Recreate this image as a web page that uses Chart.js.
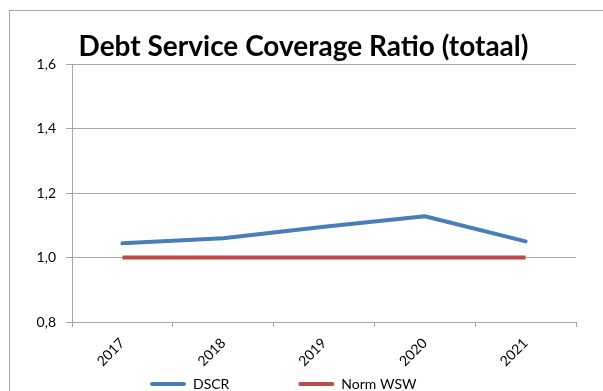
<!DOCTYPE html>
<html><head><meta charset="utf-8">
<script src="https://cdn.jsdelivr.net/npm/chart.js@4"></script>
<style>
html,body{margin:0;padding:0;background:#fff;overflow:hidden;width:603px;height:391px}
#frame{position:absolute;left:9px;top:10px;width:700px;height:500px;border:1px solid #a6a6a6;box-sizing:border-box}
#wrap{position:absolute;left:0;top:0;width:603px;height:410px}
</style></head><body>
<div id="frame"></div>
<div id="wrap"><canvas id="c" width="603" height="410"></canvas></div>
<script>
const categories = ['2017', '2018', '2019', '2020', '2021'];
const dscrValues = [1.044, 1.060, 1.095, 1.128, 1.050];
const normValues = [1.0, 1.0, 1.0, 1.0, 1.0];
const seriesNames = ['DSCR', 'Norm WSW'];
const seriesColors = ['#4A7EBB', '#BE4B48'];
const yTickLabels = ['0,8', '1,0', '1,2', '1,4', '1,6'];
const yMin = 0.8, yMax = 1.6, yStep = 0.2;
const titleText = 'Debt Service Coverage Ratio (totaal)';

const FONT = 'Lato, "Open Sans", sans-serif';
const GRID = '#A6A6A6';
const LEGEND_PAD = 13;
const LEGEND_FONT = 14;
const CANVAS_H = 410;

const layoutTweak = {
  id: 'layoutTweak',
  afterLayout(chart) {
    const t = chart.titleBlock;
    if (t) { t.left = 2 * 303.5 - t.right; }
    const lg = chart.legend;
    if (lg && lg.lineWidths) {
      const W = lg.lineWidths[0];
      lg.left = 2 * 150 - LEGEND_PAD + W - lg.right;
      const h = lg.bottom - lg.top;
      lg.top = 364;
      lg.bottom = lg.top + h;
    }
  }
};

new Chart(document.getElementById('c'), {
  type: 'line',
  data: {
    labels: categories,
    datasets: [
      { label: seriesNames[0], data: dscrValues, borderColor: seriesColors[0], backgroundColor: seriesColors[0],
        borderWidth: 4, pointRadius: 0, tension: 0, borderCapStyle: 'round', borderJoinStyle: 'round' },
      { label: seriesNames[1], data: normValues, borderColor: seriesColors[1], backgroundColor: seriesColors[1],
        borderWidth: 4, pointRadius: 0, tension: 0, borderCapStyle: 'butt' }
    ]
  },
  options: {
    responsive: false,
    animation: false,
    devicePixelRatio: 1,
    layout: { padding: { left: 0, right: 27, top: 0, bottom: 0 } },
    plugins: {
      title: {
        display: true, text: titleText, color: '#000',
        font: { family: FONT, size: 28, weight: 'bold', lineHeight: 1.2 },
        padding: { top: 30, bottom: 0.4 }
      },
      legend: {
        position: 'bottom',
        onClick(e, item, legend) {
          if (item.datasetIndex < 0) return;
          Chart.defaults.plugins.legend.onClick.call(this, e, item, legend);
        },
        labels: {
          color: '#000', boxWidth: 36, boxHeight: 4, padding: LEGEND_PAD,
          font: { family: FONT, size: LEGEND_FONT },
          generateLabels(chart) {
            const items = Chart.defaults.plugins.legend.labels.generateLabels(chart).map(it => Object.assign(it, {
              fillStyle: it.strokeStyle, lineWidth: 0, borderRadius: 2
            }));
            items.splice(1, 0, { text: '', fillStyle: 'rgba(0,0,0,0)', strokeStyle: 'rgba(0,0,0,0)', lineWidth: 0, hidden: false, datasetIndex: -1 });
            return items;
          }
        }
      },
      tooltip: { enabled: false }
    },
    scales: {
      x: {
        offset: true,
        grid: { display: true, drawOnChartArea: false, drawTicks: true, tickLength: 5, color: GRID, offset: true },
        border: { display: true, color: GRID, width: 1 },
        ticks: { color: '#000', font: { family: FONT, size: 14 }, maxRotation: 45, minRotation: 45, padding: 8 },
        afterFit(scale) { scale.height = CANVAS_H - (LEGEND_FONT + LEGEND_PAD + 10) - 322; }
      },
      y: {
        min: yMin, max: yMax,
        grid: { color: GRID, tickLength: 6, drawTicks: true },
        border: { display: true, color: GRID, width: 1 },
        ticks: {
          stepSize: yStep, color: '#000', font: { family: FONT, size: 14 }, padding: 10,
          callback(value) {
            const i = Math.round((value - yMin) / yStep);
            return yTickLabels[i];
          }
        },
        afterFit(scale) { scale.width = 72; }
      }
    }
  },
  plugins: [layoutTweak]
});
</script>
</body></html>
